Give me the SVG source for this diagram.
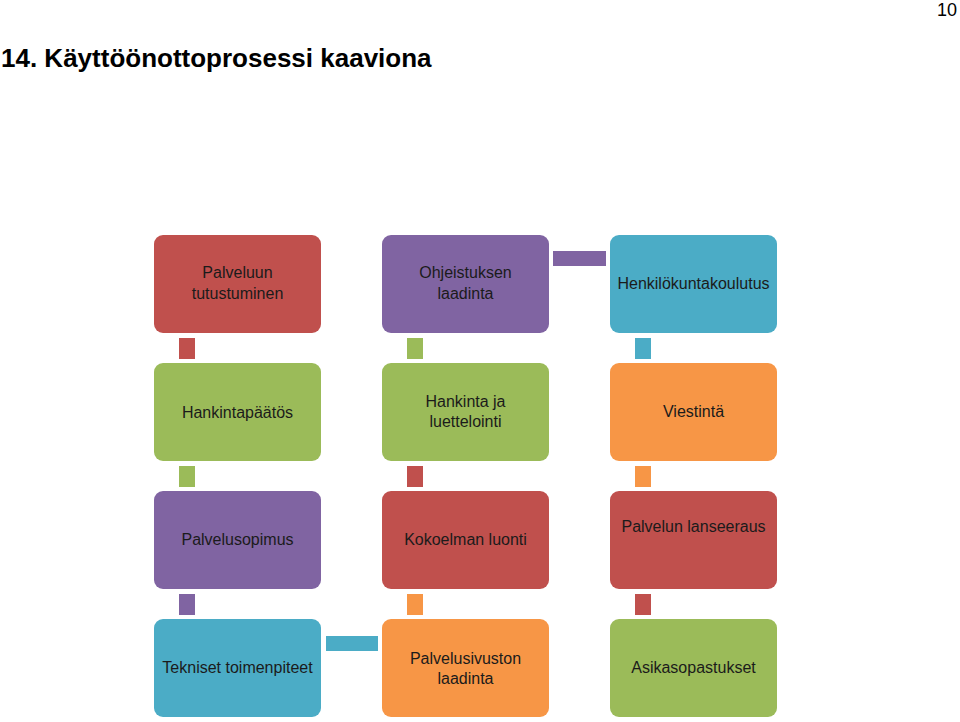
<svg xmlns="http://www.w3.org/2000/svg" width="960" height="722" viewBox="0 0 960 722">
<style>
.box{stroke:none}
.red{fill:#C0504D}
.pur{fill:#8064A2}
.tea{fill:#4BACC6}
.grn{fill:#9BBB59}
.org{fill:#F79646}
.lbl{font-family:"Liberation Sans",Arial,sans-serif;font-size:16px;fill:#1b1b1b;text-anchor:middle}
.hdr{font-family:"Liberation Sans",Arial,sans-serif;font-weight:bold;font-size:26px;fill:#000}
.pg{font-family:"Liberation Sans",Arial,sans-serif;font-size:18px;fill:#000;text-anchor:end}
</style>
<rect width="960" height="722" fill="#fff"/>
<text class="pg" x="957" y="16">10</text>
<text class="hdr" x="1" y="67">14. Käyttöönottoprosessi kaaviona</text>

<g id="connectors">
<rect class="red" x="179" y="338" width="16" height="21"/>
<rect class="grn" x="407" y="338" width="16" height="21"/>
<rect class="tea" x="635" y="338" width="16" height="21"/>
<rect class="grn" x="179" y="466" width="16" height="21"/>
<rect class="red" x="407" y="466" width="16" height="21"/>
<rect class="org" x="635" y="466" width="16" height="21"/>
<rect class="pur" x="179" y="594" width="16" height="21"/>
<rect class="org" x="407" y="594" width="16" height="21"/>
<rect class="red" x="635" y="594" width="16" height="21"/>
<rect class="pur" x="553" y="251" width="53" height="15"/>
<rect class="tea" x="326" y="636" width="52" height="15"/>
</g>

<g id="n1"><rect class="box red" x="154" y="235" width="167" height="98" rx="9"/>
<text class="lbl" x="237.5" y="278">Palveluun</text><text class="lbl" x="237.5" y="299">tutustuminen</text></g>
<g id="n2"><rect class="box pur" x="382" y="235" width="167" height="98" rx="9"/>
<text class="lbl" x="465.5" y="278">Ohjeistuksen</text><text class="lbl" x="465.5" y="299">laadinta</text></g>
<g id="n3"><rect class="box tea" x="610" y="235" width="167" height="98" rx="9"/>
<text class="lbl" x="693.5" y="289">Henkilökuntakoulutus</text></g>

<g id="n4"><rect class="box grn" x="154" y="363" width="167" height="98" rx="9"/>
<text class="lbl" x="237.5" y="418">Hankintapäätös</text></g>
<g id="n5"><rect class="box grn" x="382" y="363" width="167" height="98" rx="9"/>
<text class="lbl" x="465.5" y="407">Hankinta ja</text><text class="lbl" x="465.5" y="427">luettelointi</text></g>
<g id="n6"><rect class="box org" x="610" y="363" width="167" height="98" rx="9"/>
<text class="lbl" x="693.5" y="417">Viestintä</text></g>

<g id="n7"><rect class="box pur" x="154" y="491" width="167" height="98" rx="9"/>
<text class="lbl" x="237.5" y="545">Palvelusopimus</text></g>
<g id="n8"><rect class="box red" x="382" y="491" width="167" height="98" rx="9"/>
<text class="lbl" x="465.5" y="545">Kokoelman luonti</text></g>
<g id="n9"><rect class="box red" x="610" y="491" width="167" height="98" rx="9"/>
<text class="lbl" x="693.5" y="532">Palvelun lanseeraus</text></g>

<g id="n10"><rect class="box tea" x="154" y="619" width="167" height="98" rx="9"/>
<text class="lbl" x="237.5" y="673">Tekniset toimenpiteet</text></g>
<g id="n11"><rect class="box org" x="382" y="619" width="167" height="98" rx="9"/>
<text class="lbl" x="465.5" y="664">Palvelusivuston</text><text class="lbl" x="465.5" y="684">laadinta</text></g>
<g id="n12"><rect class="box grn" x="610" y="619" width="167" height="98" rx="9"/>
<text class="lbl" x="693.5" y="673">Asikasopastukset</text></g>
</svg>
